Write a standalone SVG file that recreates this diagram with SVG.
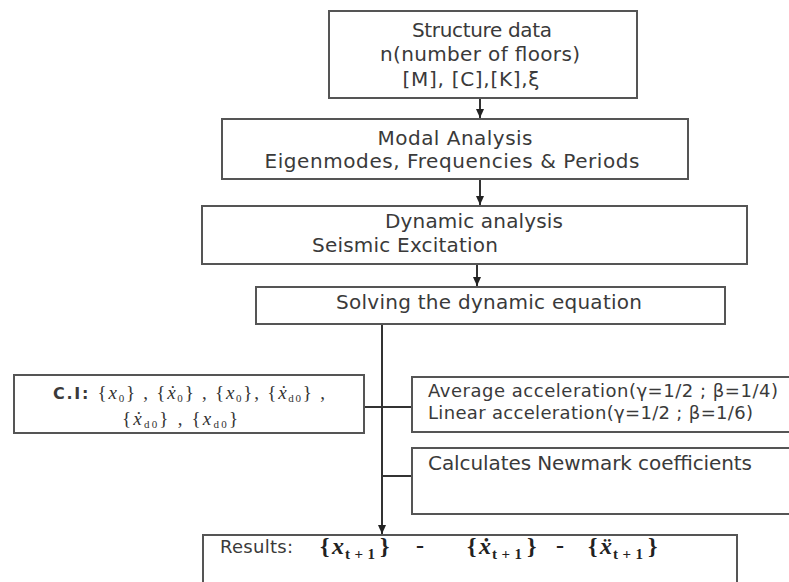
<svg xmlns="http://www.w3.org/2000/svg" width="789" height="582" viewBox="0 0 789 582">
<defs>
<marker id="ah" markerWidth="10" markerHeight="10" refX="9" refY="5" orient="auto" markerUnits="userSpaceOnUse">
<path d="M0,1 L9,5 L0,9 z" fill="#222"/>
</marker>
</defs>
<style>
.box{fill:#fff;stroke:#555;stroke-width:2}
.t{font-family:"DejaVu Sans",Verdana,sans-serif;font-size:20px;fill:#3a3a3a}
.s18{font-size:18px}
.tc{text-anchor:middle}
.m{font-family:"Liberation Serif","Times New Roman",serif;font-size:19px;fill:#333}
.r{font-family:"Liberation Serif","Times New Roman",serif;font-size:24px;font-weight:bold;fill:#222}
.i{font-style:italic}
.sub{font-size:11px}
.rs{font-size:15px}
.b{font-weight:bold}
.conn{stroke:#333;stroke-width:2;fill:none}
</style>
<rect width="789" height="582" fill="#fff"/>

<g id="connectors">
<line class="conn" x1="480" y1="98" x2="480" y2="118" marker-end="url(#ah)"/>
<line class="conn" x1="480" y1="179" x2="480" y2="205" marker-end="url(#ah)"/>
<line class="conn" x1="477" y1="264" x2="477" y2="286" marker-end="url(#ah)"/>
<line class="conn" x1="382" y1="324" x2="382" y2="534" marker-end="url(#ah)"/>
<line class="conn" x1="364" y1="407" x2="412" y2="407"/>
<line class="conn" x1="382" y1="476" x2="412" y2="476"/>
</g>

<g id="structure-data">
<rect class="box" x="329" y="11" width="308" height="87"/>
<text class="t tc" x="482" y="37" textLength="140">Structure data</text>
<text class="t tc" x="480" y="61" textLength="200">n(number of floors)</text>
<text class="t tc" x="471" y="86" textLength="137">[M], [C],[K],ξ</text>
</g>

<g id="modal-analysis">
<rect class="box" x="222" y="119" width="466" height="60"/>
<text class="t tc" x="455" y="145" textLength="155">Modal Analysis</text>
<text class="t tc" x="452" y="168" textLength="375">Eigenmodes, Frequencies &amp; Periods</text>
</g>

<g id="dynamic-analysis">
<rect class="box" x="202" y="206" width="545" height="58"/>
<text class="t" x="385" y="228" textLength="178">Dynamic analysis</text>
<text class="t" x="312" y="252" textLength="186">Seismic Excitation</text>
</g>

<g id="solving">
<rect class="box" x="256" y="287" width="469" height="37"/>
<text class="t" x="336" y="309" textLength="306">Solving the dynamic equation</text>
</g>

<g id="initial-conditions">
<rect class="box" x="14" y="375" width="350" height="58"/>
<text class="m" x="53" y="399" textLength="272"><tspan class="t b" style="font-size:16px">C.I: </tspan>{<tspan class="i">x</tspan><tspan class="sub" dy="3">0</tspan><tspan dy="-3">} , {</tspan><tspan class="i">ẋ</tspan><tspan class="sub" dy="3">0</tspan><tspan dy="-3">} , {</tspan><tspan class="i">x</tspan><tspan class="sub" dy="3">0</tspan><tspan dy="-3">}, {</tspan><tspan class="i">ẋ</tspan><tspan class="sub" dy="3">d0</tspan><tspan dy="-3">} ,</tspan></text>
<text class="m" x="122" y="425" textLength="116">{<tspan class="i">ẋ</tspan><tspan class="sub" dy="3">d0</tspan><tspan dy="-3">} , {</tspan><tspan class="i">x</tspan><tspan class="sub" dy="3">d0</tspan><tspan dy="-3">}</tspan></text>
</g>

<g id="newmark-parameters">
<rect class="box" x="412" y="377" width="400" height="55"/>
<text class="t s18" x="428" y="397" textLength="350">Average acceleration(γ=1/2 ; β=1/4)</text>
<text class="t s18" x="428" y="419" textLength="325">Linear acceleration(γ=1/2 ; β=1/6)</text>
</g>

<g id="newmark-coefficients">
<rect class="box" x="412" y="448" width="400" height="66"/>
<text class="t" x="428" y="470" textLength="324">Calculates Newmark coefficients</text>
</g>

<g id="results">
<rect class="box" x="203" y="535" width="534" height="70"/>
<text class="t" x="220" y="553" style="font-size:18px" textLength="73">Results:</text>
<text class="r" y="554"><tspan x="320">{</tspan><tspan class="i" x="332">x</tspan><tspan class="rs" x="345" dy="5" textLength="30">t+1</tspan><tspan x="380" dy="-5">}</tspan></text>
<text class="r" x="416" y="553">-</text>
<text class="r" y="554"><tspan x="467">{</tspan><tspan class="i" x="479">ẋ</tspan><tspan class="rs" x="492" dy="5" textLength="30">t+1</tspan><tspan x="527" dy="-5">}</tspan></text>
<text class="r" x="556" y="553">-</text>
<text class="r" y="554"><tspan x="588">{</tspan><tspan class="i" x="600">ẍ</tspan><tspan class="rs" x="613" dy="5" textLength="30">t+1</tspan><tspan x="648" dy="-5">}</tspan></text>
</g>
</svg>
